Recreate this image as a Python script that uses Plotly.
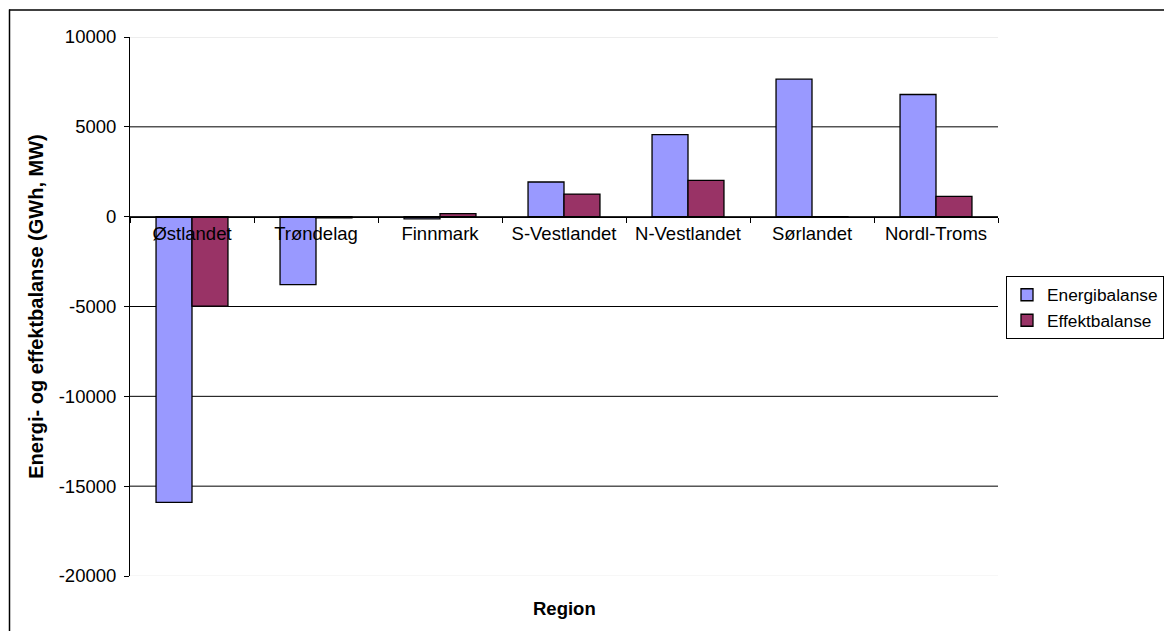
import plotly.graph_objects as go

# Regional energy and power balance
regions = ["Østlandet", "Trøndelag", "Finnmark", "S-Vestlandet",
           "N-Vestlandet", "Sørlandet", "Nordl-Troms"]
energibalanse = [-15900, -3780, -120, 1930, 4570, 7650, 6800]
effektbalanse = [-4980, -60, 170, 1260, 2020, -30, 1130]

y_ticks = [10000, 5000, 0, -5000, -10000, -15000, -20000]
y_range = [-20000, 10000]

FONT = "Liberation Sans, Arial, sans-serif"
FS = 18.5

W, H = 1164, 631
M_L, M_R, M_T, M_B = 130, 166, 36.5, 54.5
PW = W - M_L - M_R
PH = H - M_T - M_B

fig = go.Figure()
fig.add_trace(go.Bar(
    name="Energibalanse", x=regions, y=energibalanse,
    marker=dict(color="#9999FF", line=dict(color="#000000", width=1.3)),
))
fig.add_trace(go.Bar(
    name="Effektbalanse", x=regions, y=effektbalanse,
    marker=dict(color="#993366", line=dict(color="#000000", width=1.3)),
))

# horizontal gridlines: interior ones black, the outer ones pale
shapes = []
for v in y_ticks:
    if v == y_range[1]:
        col = "#dcdcdc"
    elif v == y_range[0]:
        col = "#eeeeee"
    else:
        col = "#000000"
    shapes.append(dict(type="line", xref="paper", yref="y", x0=0, x1=1,
                       y0=v, y1=v, line=dict(color=col, width=1),
                       layer="below"))


def px_x(p):
    return (p - M_L) / PW


def px_y(p):
    return (H - M_B - p) / PH


# outer chart frame (top and left edges)
shapes.append(dict(type="line", xref="paper", yref="paper",
                   x0=px_x(9), x1=px_x(1170), y0=px_y(9.5), y1=px_y(9.5),
                   line=dict(color="#000000", width=1.5)))
shapes.append(dict(type="line", xref="paper", yref="paper",
                   x0=px_x(9.5), x1=px_x(9.5), y0=px_y(9), y1=px_y(640),
                   line=dict(color="#000000", width=1.5)))

zero_pos = (0 - y_range[0]) / (y_range[1] - y_range[0])

fig.update_layout(
    width=W, height=H,
    margin=dict(l=M_L, r=M_R, t=M_T, b=M_B, autoexpand=False),
    paper_bgcolor="white", plot_bgcolor="white",
    font=dict(family=FONT, size=FS, color="#000000"),
    barmode="group", bargap=0.42, bargroupgap=0,
    showlegend=True,
    legend=dict(xref="container", yref="container",
                x=1006 / W, y=1 - 276 / H,
                xanchor="left", yanchor="top",
                bordercolor="#000000", borderwidth=1,
                bgcolor="white", font=dict(family=FONT, size=17.3),
                itemwidth=30, tracegroupgap=0),
    shapes=shapes,
    xaxis=dict(
        type="category", anchor="free", position=zero_pos,
        showline=True, linecolor="#000000", linewidth=1,
        ticks="outside", tickson="boundaries", ticklen=5,
        tickcolor="#000000", showgrid=False, zeroline=False,
        tickfont=dict(family=FONT, size=FS),
    ),
    yaxis=dict(
        range=y_range, tickvals=y_ticks, ticktext=[str(v) for v in y_ticks],
        showline=True, linecolor="#000000", linewidth=1,
        ticks="outside", ticklen=5, tickcolor="#000000",
        showgrid=False, zeroline=False, ticklabelstandoff=4,
        tickfont=dict(family=FONT, size=FS),
        title=dict(text="<b>Energi- og effektbalanse (GWh, MW)</b>",
                   font=dict(family=FONT, size=20), standoff=9),
    ),
    annotations=[dict(text="<b>Region</b>", xref="paper", yref="paper",
                      x=0.5, y=px_y(609), showarrow=False,
                      xanchor="center", yanchor="middle",
                      font=dict(family=FONT, size=FS))],
)

fig.write_html("out.html")
